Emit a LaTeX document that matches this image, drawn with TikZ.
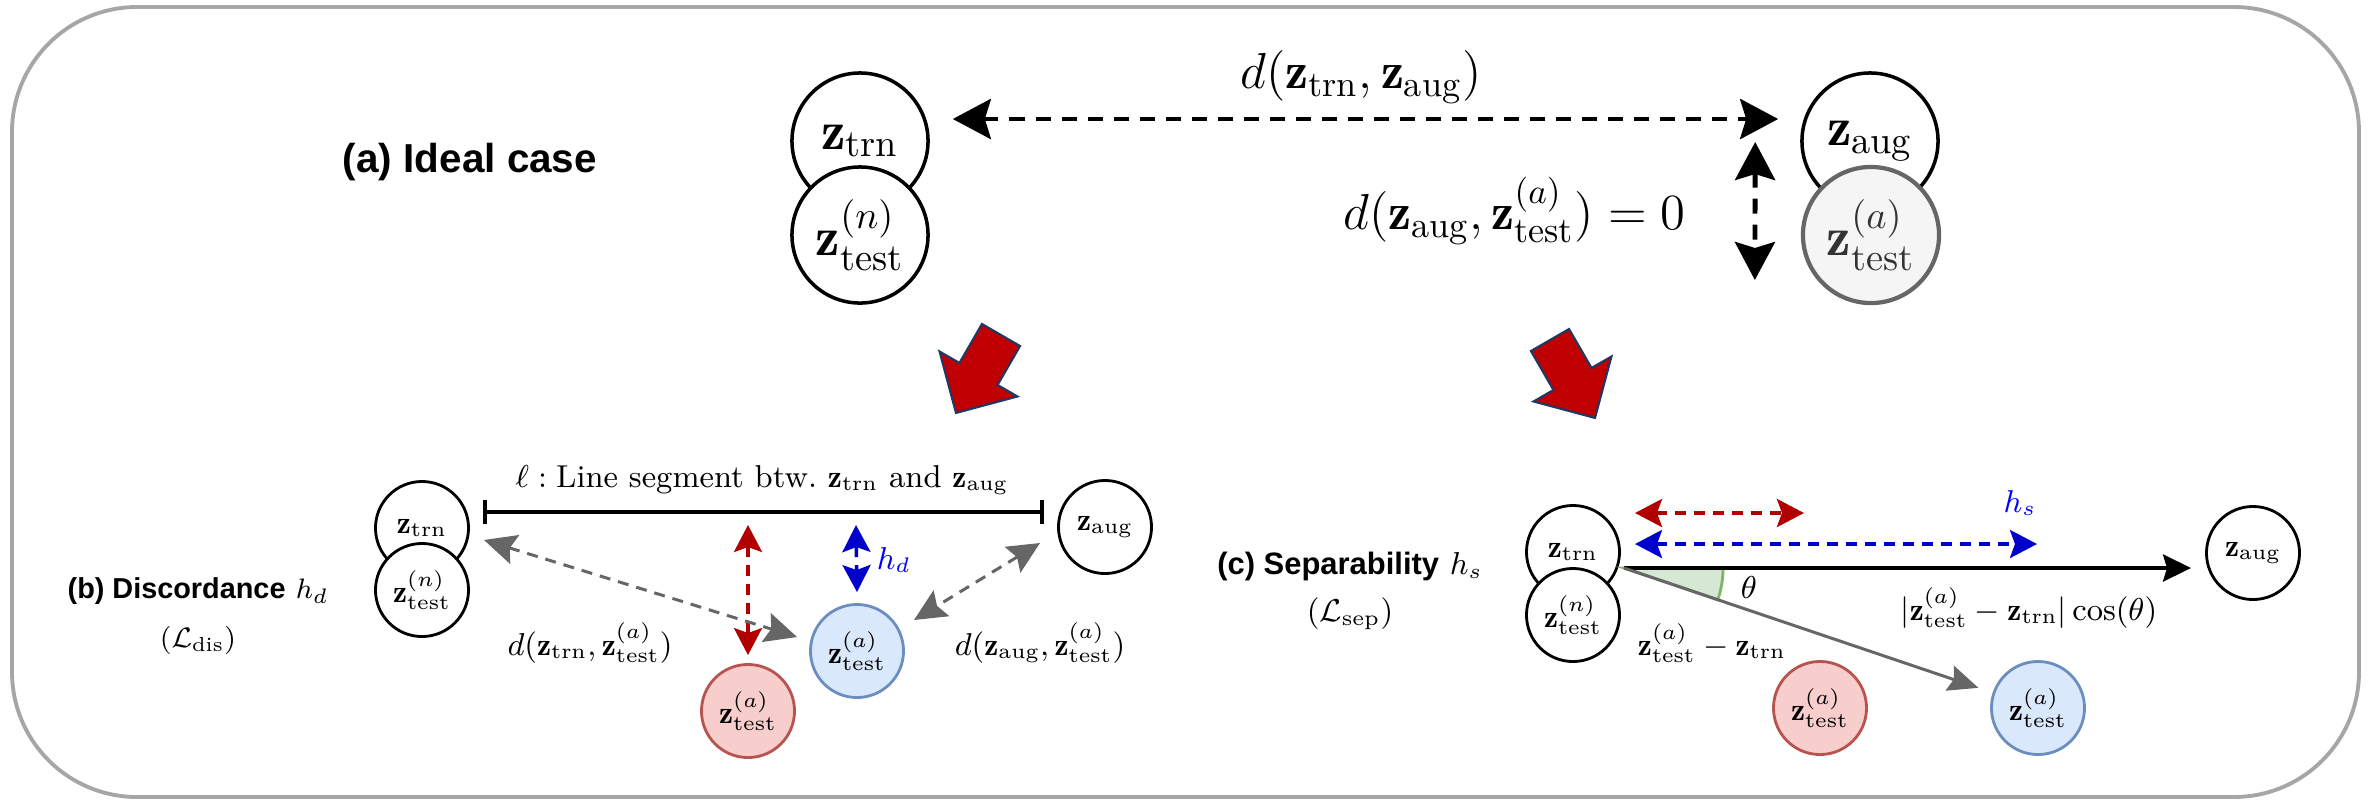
\documentclass[tikz,border=0pt]{standalone}
\usepackage{amsmath,amssymb}
\usepackage{fontspec}
\newfontfamily\labelfont{Liberation Sans}
\usetikzlibrary{arrows.meta,calc}

\definecolor{framegray}{HTML}{A6A6A6}
\definecolor{testfill}{HTML}{F5F5F5}
\definecolor{testline}{HTML}{666666}
\definecolor{redfill}{HTML}{F8CECC}
\definecolor{redline}{HTML}{B85450}
\definecolor{bluefill}{HTML}{DAE8FC}
\definecolor{blueline}{HTML}{6C8EBF}
\definecolor{greenfill}{HTML}{D5E8D4}
\definecolor{greenline}{HTML}{82B366}
\definecolor{arrred}{HTML}{B20000}
\definecolor{arrblue}{HTML}{0000CC}
\definecolor{bigred}{HTML}{C00000}
\definecolor{bignavy}{HTML}{203864}

\newcommand{\ztrn}{\mathbf{z}_{\mathrm{trn}}}
\newcommand{\zaug}{\mathbf{z}_{\mathrm{aug}}}
\newcommand{\ztest}[1]{\mathbf{z}_{\mathrm{test}}^{(#1)}}

\begin{document}
\begin{tikzpicture}[x=0.01cm,y=-0.01cm,
  bigtxt/.style={font=\fontsize{14.7}{17}\selectfont},
  smalltxt/.style={font=\fontsize{9}{11}\selectfont},
  captxt/.style={align=center,font=\fontsize{8.2}{13.7}\selectfont},
  zbig/.style={circle,draw,line width=1pt,minimum size=1.36cm,inner sep=0pt,fill=white,font=\fontsize{15.6}{18}\selectfont},
  zsmall/.style={circle,draw,line width=0.8pt,minimum size=0.93cm,inner sep=0pt,fill=white,smalltxt},
  redz/.style={zsmall,draw=redline,fill=redfill},
  bluez/.style={zsmall,draw=blueline,fill=bluefill},
  dashbig/.style={line width=1.4pt,dash pattern=on 0.15cm off 0.11cm,
    {Stealth[length=0.38cm,width=0.4cm,inset=0.06cm]}-{Stealth[length=0.38cm,width=0.4cm,inset=0.06cm]}},
  dashgray/.style={testline,line width=0.85pt,dash pattern=on 0.11cm off 0.08cm,
    {Stealth[length=0.32cm,width=0.3cm,inset=0.05cm]}-{Stealth[length=0.32cm,width=0.3cm,inset=0.05cm]}},
  dashcol/.style={line width=1pt,dash pattern=on 0.11cm off 0.08cm,
    {Stealth[length=0.27cm,width=0.28cm,inset=0.05cm]}-{Stealth[length=0.27cm,width=0.28cm,inset=0.05cm]}},
  bigarrow/.style={fill=bigred,draw=bignavy,line width=0.6pt,line join=miter}
]
\useasboundingbox (0,0) rectangle (2374,799);
\draw[framegray,line width=1.1pt,rounded corners=1.25cm] (12,7) rectangle (2359,797);

% (a) ideal case
\node[font=\labelfont\bfseries\fontsize{11.5}{14}\selectfont] (capA) at (470,162) {(a) Ideal case};
\node[zbig] (trnA) at (860,141) {$\ztrn$};
\node[zbig] (testnA) at (860,235) {$\ztest{n}$};
\node[zbig] (augA) at (1870,141) {$\zaug$};
\node[zbig,draw=testline,fill=testfill,line width=1.2pt,text=black!80] (testaA) at (1871,235) {$\ztest{a}$};
\draw[dashbig] ([shift={(23,-22)}]trnA.east) -- ([shift={(-22,-22)}]augA.west);
\draw[dashbig] ([shift={(-45,1)}]augA.west) -- ([shift={(-46,45)}]testaA.west);
\node[bigtxt] (dTop) at (1361,77) {$d(\ztrn,\zaug)$};
\node[bigtxt,anchor=east] (dZero) at (1698,211) {$d(\zaug,\ztest{a})=0$};

% arrows down to (b) and (c)
\foreach \px/\py/\ang in {1001/335/240,1550/340/300}
  \filldraw[bigarrow,shift={(\px,\py)},rotate=\ang]
    (0,-22) -- (45,-22) -- (45,-45) -- (90,0) -- (45,45) -- (45,22) -- (0,22) -- cycle;

% (b) discordance
\node[captxt] (capB) at (198,616) {{\labelfont\bfseries (b) Discordance} $h_d$\\ $(\mathcal{L}_{\mathrm{dis}})$};
\node[zsmall] (trnB) at (422,528) {$\ztrn$};
\node[zsmall] (testnB) at (422,590) {$\ztest{n}$};
\node[zsmall] (augB) at (1105,527) {$\zaug$};
\node[redz] (redB) at (748,711) {$\ztest{a}$};
\node[bluez] (blueB) at (857,651) {$\ztest{a}$};
\draw[line width=1.1pt,{Bar[width=0.24cm]}-{Bar[width=0.24cm]}]
  ([shift={(13,-16)}]trnB.east) -- ([shift={(-13,-15)}]augB.west);
\node[smalltxt] (segLbl) at (762,480) {$\ell:\text{Line segment btw.\ }\ztrn\text{ and }\zaug$};
\coordinate (redTop) at (748,525);
\coordinate (blueTop) at (856,525);
\draw[dashcol,arrred] (redTop) -- ([shift={(0,-8)}]redB.north);
\draw[dashcol,arrblue] (blueTop) -- ([shift={(0,-11)}]blueB.north);
\node[smalltxt,text=blue] (hdLbl) at (894,560) {$h_d$};
\draw[dashgray] ([shift={(62,12)}]trnB.center) -- ([shift={(-60,-14)}]blueB.center);
\draw[dashgray] ([shift={(-65,16)}]augB.center) -- ([shift={(57,-31)}]blueB.center);
\node[smalltxt] (dTrnB) at (590,643) {$d(\ztrn,\ztest{a})$};
\node[smalltxt] (dAugB) at (1040,643) {$d(\zaug,\ztest{a})$};

% (c) separability
\node[captxt,font=\fontsize{8.8}{13.4}\selectfont] (capC) at (1350,591) {{\labelfont\bfseries (c) Separability} $h_s$\\ $(\mathcal{L}_{\mathrm{sep}})$};
\node[zsmall] (trnC) at (1573,552) {$\ztrn$};
\node[zsmall] (testnC) at (1573,615) {$\ztest{n}$};
\node[zsmall] (augC) at (2253,553) {$\zaug$};
\node[redz] (redC) at (1820,708) {$\ztest{a}$};
\node[bluez] (blueC) at (2038,708) {$\ztest{a}$};
\coordinate (orig) at (1624,568);
\filldraw[fill=greenfill,draw=greenline,line width=0.8pt]
  (orig) -- ++(0.99cm,0) arc[start angle=0,end angle=-18.7,radius=0.99cm] -- cycle;
\draw[line width=1.1pt,-{Stealth[length=0.28cm,width=0.27cm,inset=0.04cm]}]
  (orig) -- ([shift={(-14,15)}]augC.west);
\draw[testline,line width=0.85pt,shorten >=0.15cm,-{Stealth[length=0.3cm,width=0.26cm,inset=0.04cm]}]
  (orig) -- (blueC);
\coordinate (sepRedL) at (1635,513);
\coordinate (sepRedR) at (1804,513);
\coordinate (sepBlueL) at (1635,544);
\coordinate (sepBlueR) at (2037,544);
\draw[dashcol,arrred] (sepRedL) -- (sepRedR);
\draw[dashcol,arrblue] (sepBlueL) -- (sepBlueR);
\node[smalltxt,text=blue] (hsLbl) at (2020,503) {$h_s$};
\node[smalltxt] (thLbl) at (1749,587) {$\theta$};
\node[smalltxt] (cosLbl) at (2029,608) {$|\ztest{a}-\ztrn|\cos(\theta)$};
\node[smalltxt] (diffLbl) at (1712,643) {$\ztest{a}-\ztrn$};
\end{tikzpicture}
\end{document}
